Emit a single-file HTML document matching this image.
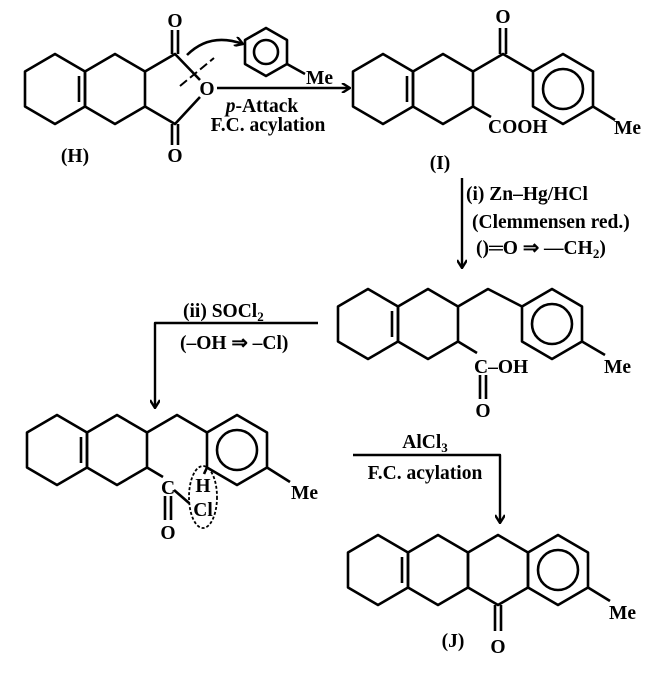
<!DOCTYPE html>
<html><head><meta charset="utf-8"><style>
html,body{margin:0;padding:0;background:#fff;}
svg{display:block;}
text{font-family:"Liberation Serif","Times New Roman",serif;font-weight:bold;font-size:19.5px;fill:#000;}
</style></head><body>
<svg width="646" height="677" viewBox="0 0 646 677" xmlns="http://www.w3.org/2000/svg">
<defs>
<marker id="ah" markerWidth="10" markerHeight="10" refX="9" refY="5" orient="auto" markerUnits="userSpaceOnUse">
<path d="M1,0 L9,5 L1,10" fill="none" stroke="#000" stroke-width="2.4"/>
</marker>
</defs>
<g fill="none" stroke="#000" stroke-width="2.6" stroke-linejoin="round">
<polygon points="55,54 85,71.5 85,106.5 55,124 25,106.5 25,71.5"/>
<polygon points="115,54 145,71.5 145,106.5 115,124 85,106.5 85,71.5"/>
<line x1="79" y1="76" x2="79" y2="102"/>
<polyline points="145,71.5 175,54 200,80"/>
<polyline points="145,106.5 175,124 200,97"/>
<line x1="172" y1="30" x2="172" y2="54"/><line x1="178" y1="30" x2="178" y2="54"/>
<line x1="172" y1="124" x2="172" y2="145"/><line x1="178" y1="124" x2="178" y2="145"/>
<line x1="180" y1="86" x2="214" y2="58" stroke-dasharray="9,4" stroke-width="2"/>
<path d="M187,55 Q210,32 243,44" marker-end="url(#ah)"/>
<polygon points="266,28 287,40 287,64 266,76 245,64 245,40"/>
<circle cx="266" cy="52" r="12"/>
<line x1="287" y1="64" x2="305" y2="74"/>
<line x1="217" y1="88" x2="350" y2="88" marker-end="url(#ah)" stroke-width="2.4"/>
<polygon points="383,54 413,71.5 413,106.5 383,124 353,106.5 353,71.5"/>
<polygon points="443,54 473,71.5 473,106.5 443,124 413,106.5 413,71.5"/>
<line x1="407" y1="76" x2="407" y2="102"/>
<polyline points="473,71.5 503,54 533,71.5"/>
<line x1="500" y1="28" x2="500" y2="54"/><line x1="506" y1="28" x2="506" y2="54"/>
<polygon points="563,54 593,71.5 593,106.5 563,124 533,106.5 533,71.5"/>
<circle cx="563" cy="89" r="20"/>
<line x1="593" y1="106.5" x2="615" y2="120"/>
<line x1="473" y1="106.5" x2="491" y2="117"/>
<line x1="462" y1="178" x2="462" y2="268" marker-end="url(#ah)" stroke-width="2.4"/>
<polygon points="368,289 398,306.5 398,341.5 368,359 338,341.5 338,306.5"/>
<polygon points="428,289 458,306.5 458,341.5 428,359 398,341.5 398,306.5"/>
<line x1="392" y1="311" x2="392" y2="337"/>
<polyline points="458,306.5 488,289 522,306.5"/>
<polygon points="552,289 582,306.5 582,341.5 552,359 522,341.5 522,306.5"/>
<circle cx="552" cy="324" r="20"/>
<line x1="582" y1="341.5" x2="605" y2="355"/>
<line x1="458" y1="341.5" x2="477" y2="353"/>
<line x1="480" y1="375" x2="480" y2="399"/><line x1="486" y1="375" x2="486" y2="399"/>
<polyline points="318,323 155,323 155,408" marker-end="url(#ah)" stroke-width="2.4"/>
<polygon points="57,415 87,432.5 87,467.5 57,485 27,467.5 27,432.5"/>
<polygon points="117,415 147,432.5 147,467.5 117,485 87,467.5 87,432.5"/>
<line x1="81" y1="437" x2="81" y2="463"/>
<polyline points="147,432.5 177,415 207,432.5"/>
<polygon points="237,415 267,432.5 267,467.5 237,485 207,467.5 207,432.5"/>
<circle cx="237" cy="450" r="20"/>
<line x1="267" y1="467.5" x2="290" y2="482"/>
<line x1="147" y1="467.5" x2="163" y2="477"/>
<line x1="165" y1="496" x2="165" y2="520"/><line x1="171" y1="496" x2="171" y2="520"/>
<line x1="174" y1="490" x2="189" y2="503"/>
<line x1="207" y1="467.5" x2="204" y2="474"/>
<ellipse cx="203" cy="497" rx="14" ry="31" stroke-dasharray="3,2" stroke-width="1.8"/>
<polyline points="353,455 500,455 500,523" marker-end="url(#ah)" stroke-width="2.4"/>
<polygon points="378,535 408,552.5 408,587.5 378,605 348,587.5 348,552.5"/>
<polygon points="438,535 468,552.5 468,587.5 438,605 408,587.5 408,552.5"/>
<polygon points="498,535 528,552.5 528,587.5 498,605 468,587.5 468,552.5"/>
<polygon points="558,535 588,552.5 588,587.5 558,605 528,587.5 528,552.5"/>
<line x1="402" y1="557" x2="402" y2="583"/>
<circle cx="558" cy="570" r="20"/>
<line x1="588" y1="587.5" x2="610" y2="601"/>
<line x1="495" y1="605" x2="495" y2="631"/><line x1="501" y1="605" x2="501" y2="631"/>
</g>
<g>
<text x="175" y="27" text-anchor="middle">O</text>
<text x="175" y="162" text-anchor="middle">O</text>
<text x="207" y="95" text-anchor="middle">O</text>
<text x="75" y="162" text-anchor="middle" font-size="22">(H)</text>
<text x="306" y="84">Me</text>
<text x="262" y="112" text-anchor="middle"><tspan font-style="italic">p</tspan>-Attack</text>
<text x="268" y="131" text-anchor="middle">F.C. acylation</text>
<text x="503" y="23" text-anchor="middle">O</text>
<text x="488" y="133">COOH</text>
<text x="614" y="134">Me</text>
<text x="440" y="169" text-anchor="middle" font-size="22">(I)</text>
<text x="466" y="200">(i) Zn–Hg/HCl</text>
<text x="472" y="228">(Clemmensen red.)</text>
<text x="476" y="254">()═O ⇒ —CH<tspan font-size="13" dy="4">2</tspan><tspan dy="-4">)</tspan></text>
<text x="474" y="373">C–OH</text>
<text x="483" y="417" text-anchor="middle">O</text>
<text x="604" y="373">Me</text>
<text x="183" y="317">(ii) SOCl<tspan font-size="13" dy="4">2</tspan></text>
<text x="180" y="349">(–OH ⇒ –Cl)</text>
<text x="168" y="494" text-anchor="middle">C</text>
<text x="168" y="539" text-anchor="middle">O</text>
<text x="203" y="492" text-anchor="middle">H</text>
<text x="203" y="516" text-anchor="middle">Cl</text>
<text x="291" y="499">Me</text>
<text x="425" y="448" text-anchor="middle">AlCl<tspan font-size="13" dy="4">3</tspan></text>
<text x="425" y="479" text-anchor="middle">F.C. acylation</text>
<text x="609" y="619">Me</text>
<text x="453" y="647" text-anchor="middle" font-size="22">(J)</text>
<text x="498" y="653" text-anchor="middle">O</text>
</g>
</svg>
</body></html>
